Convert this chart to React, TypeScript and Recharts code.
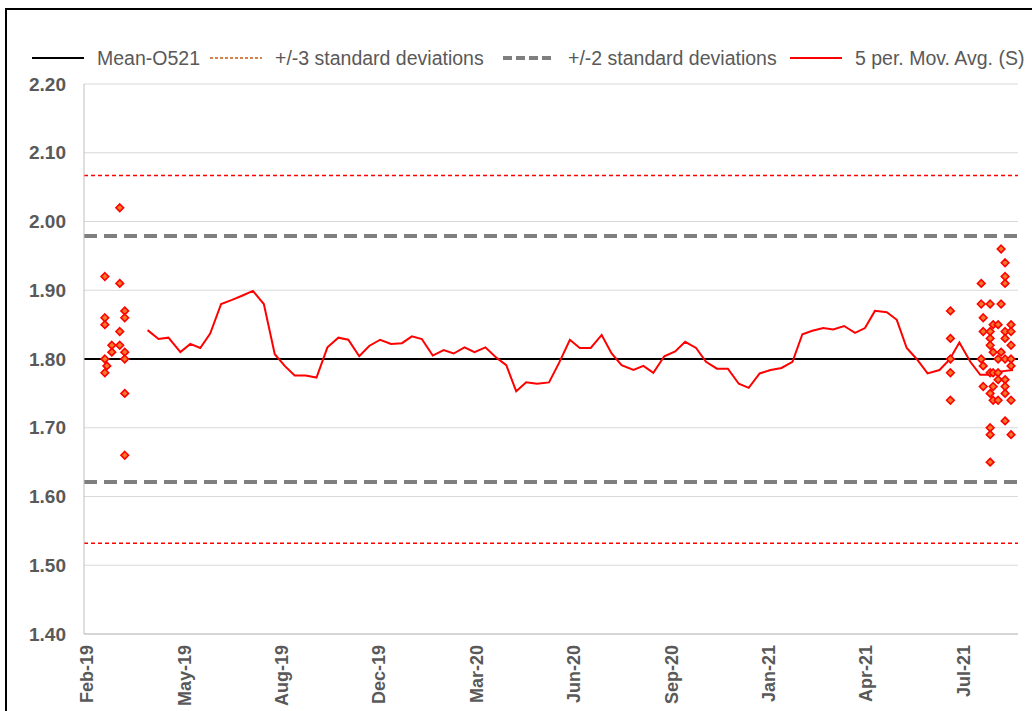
import {
  CartesianGrid,
  ComposedChart,
  Line,
  ReferenceLine,
  Scatter,
  XAxis,
  YAxis,
} from "recharts";

// x values are days counted from the Feb-19 tick
const tickDays = [0, 98, 196, 294, 392, 490, 588, 686, 784, 882];
const tickLabels = [
  "Feb-19",
  "May-19",
  "Aug-19",
  "Dec-19",
  "Mar-20",
  "Jun-20",
  "Sep-20",
  "Jan-21",
  "Apr-21",
  "Jul-21",
];
const yTicks = [1.4, 1.5, 1.6, 1.7, 1.8, 1.9, 2.0, 2.1, 2.2];

// 5 period moving average
const maDays = [
  61, 72, 82, 94, 104, 114, 124, 135, 146, 156, 167, 178, 189, 199, 209, 220,
  231, 242, 253, 263, 274, 284, 295, 306, 317, 327, 337, 348, 359, 369, 380,
  390, 401, 412, 422, 432, 442, 453, 465, 475, 486, 496, 507, 518, 528, 538,
  550, 560, 570, 581, 592, 602, 613, 623, 634, 645, 656, 666, 677, 688, 699,
  710, 720, 730, 741, 751, 762, 773, 783, 793, 805, 815, 825, 835, 846, 858,
  868, 878, 889, 899, 910, 920, 932,
];
const maValues = [
  1.842, 1.829, 1.831, 1.81, 1.822, 1.816, 1.837, 1.88, 1.886, 1.892, 1.899,
  1.88, 1.807, 1.79, 1.776, 1.776, 1.773, 1.817, 1.831, 1.828, 1.804, 1.819,
  1.828, 1.822, 1.823, 1.833, 1.829, 1.805, 1.813, 1.808, 1.817, 1.81, 1.817,
  1.802, 1.791, 1.753, 1.766, 1.764, 1.766, 1.794, 1.828, 1.816, 1.816, 1.835,
  1.808, 1.791, 1.784, 1.79, 1.78, 1.804, 1.811, 1.825, 1.816, 1.796, 1.786,
  1.786, 1.764, 1.758, 1.779, 1.784, 1.787, 1.796, 1.836, 1.841, 1.845, 1.843,
  1.848, 1.838, 1.845, 1.87, 1.868, 1.857, 1.816, 1.8, 1.779, 1.784, 1.799,
  1.824, 1.796, 1.777, 1.777, 1.782, 1.784,
];

// individual results (S)
const obsDays = [18, 20, 25, 33, 38, 869, 900, 902, 909, 912, 917, 920, 924, 930];
const obsValues = [
  [1.92, 1.86, 1.85, 1.8, 1.78],
  [1.79],
  [1.82, 1.81],
  [2.02, 1.91, 1.84, 1.82],
  [1.87, 1.86, 1.81, 1.8, 1.75, 1.66],
  [1.87, 1.83, 1.8, 1.78, 1.74],
  [1.91, 1.88, 1.8],
  [1.86, 1.84, 1.79, 1.76],
  [1.88, 1.84, 1.83, 1.82, 1.78, 1.75, 1.7, 1.69, 1.65],
  [1.85, 1.81, 1.78, 1.76, 1.74],
  [1.85, 1.8, 1.78, 1.77, 1.74],
  [1.96, 1.88, 1.81],
  [1.94, 1.92, 1.91, 1.84, 1.83, 1.8, 1.77, 1.76, 1.75, 1.71],
  [1.85, 1.84, 1.82, 1.8, 1.79, 1.74, 1.69],
];

const meanValue = 1.8;
const plus2sd = 1.979;
const minus2sd = 1.621;
const plus3sd = 2.067;
const minus3sd = 1.532;

const maData = maDays.map((day, i) => ({ day, v: maValues[i] }));
const obsData = obsDays.flatMap((day, i) =>
  obsValues[i].map((v) => ({ day, v }))
);

const FONT = "'Liberation Sans', Arial, sans-serif";
const LABEL = "#595959";

const XTick = (props: any) => {
  const { x, y, payload } = props;
  const idx = tickDays.indexOf(payload.value);
  return (
    <text
      transform={`translate(${x},${y}) rotate(-90)`}
      textAnchor="end"
      dy="0.35em"
      fontFamily={FONT}
      fontWeight="bold"
      fontSize={18}
      fill={LABEL}
    >
      {tickLabels[idx]}
    </text>
  );
};

const YTick = (props: any) => {
  const { x, y, payload } = props;
  return (
    <text
      x={x}
      y={y}
      textAnchor="end"
      dy="0.35em"
      fontFamily={FONT}
      fontWeight="bold"
      fontSize={19}
      fill={LABEL}
    >
      {payload.value.toFixed(2)}
    </text>
  );
};

const Diamond = (props: any) => {
  const { cx, cy } = props;
  const r = 3.8;
  return (
    <polygon
      points={`${cx},${cy - r} ${cx + r},${cy} ${cx},${cy + r} ${cx - r},${cy}`}
      fill="#f2792b"
      stroke="#ff0000"
      strokeWidth={1.6}
    />
  );
};

const legendItems = [
  { label: "Mean-O521", stroke: "#000000", width: 2, dash: undefined, left: 25 },
  { label: "+/-3 standard deviations", stroke: "#c65911", width: 1.5, dash: "3 2", left: 203 },
  { label: "+/-2 standard deviations", stroke: "#7f7f7f", width: 4, dash: "9 4", left: 496 },
  { label: "5 per. Mov. Avg. (S)", stroke: "#ff0000", width: 2, dash: undefined, left: 783 },
];

const ChartLegend = () => (
  <div style={{ position: "absolute", left: 0, top: 37, width: 1100 }}>
    {legendItems.map((it) => (
      <div
        key={it.label}
        style={{
          position: "absolute",
          left: it.left,
          top: 0,
          display: "flex",
          alignItems: "center",
          whiteSpace: "nowrap",
          fontFamily: FONT,
          fontSize: 19.5,
          lineHeight: "22px",
          color: LABEL,
        }}
      >
        <svg width={52} height={10} style={{ marginRight: 13 }}>
          <line
            x1={0}
            y1={5}
            x2={52}
            y2={5}
            stroke={it.stroke}
            strokeWidth={it.width}
            strokeDasharray={it.dash}
          />
        </svg>
        <span>{it.label}</span>
      </div>
    ))}
  </div>
);

export default function App() {
  return (
    <div
      style={{
        position: "fixed",
        left: 5,
        top: 8,
        width: 1027,
        height: 703,
        overflow: "hidden",
        borderLeft: "2px solid #000",
        borderTop: "2px solid #000",
        boxSizing: "border-box",
        background: "#fff",
      }}
    >
      <ChartLegend />
      <ComposedChart
        width={1025}
        height={701}
        margin={{ top: 74, right: 14, bottom: 0, left: 0 }}
      >
        <CartesianGrid vertical={false} stroke="#d9d9d9" />
        <XAxis
          type="number"
          dataKey="day"
          domain={[-3, 937]}
          ticks={tickDays}
          interval={0}
          allowDataOverflow
          height={77}
          tickLine={false}
          tickSize={0}
          tickMargin={11}
          axisLine={{ stroke: "#bfbfbf" }}
          tick={<XTick />}
        />
        <YAxis
          type="number"
          domain={[1.4, 2.2]}
          ticks={yTicks}
          interval={0}
          width={77}
          tickLine={false}
          tickSize={0}
          tickMargin={18}
          axisLine={{ stroke: "#bfbfbf" }}
          tick={<YTick />}
        />
        <ReferenceLine y={plus3sd} stroke="#ff0000" strokeWidth={1.5} strokeDasharray="4 3" />
        <ReferenceLine y={minus3sd} stroke="#ff0000" strokeWidth={1.5} strokeDasharray="4 3" />
        <ReferenceLine y={plus2sd} stroke="#7f7f7f" strokeWidth={4} strokeDasharray="13 7" />
        <ReferenceLine y={minus2sd} stroke="#7f7f7f" strokeWidth={4} strokeDasharray="13 7" />
        <ReferenceLine y={meanValue} stroke="#000000" strokeWidth={2} />
        <Line
          data={maData}
          dataKey="v"
          stroke="#ff0000"
          strokeWidth={2}
          dot={false}
          activeDot={false}
          isAnimationActive={false}
        />
        <Scatter
          data={obsData}
          dataKey="v"
          shape={<Diamond />}
          isAnimationActive={false}
        />
      </ComposedChart>
    </div>
  );
}
